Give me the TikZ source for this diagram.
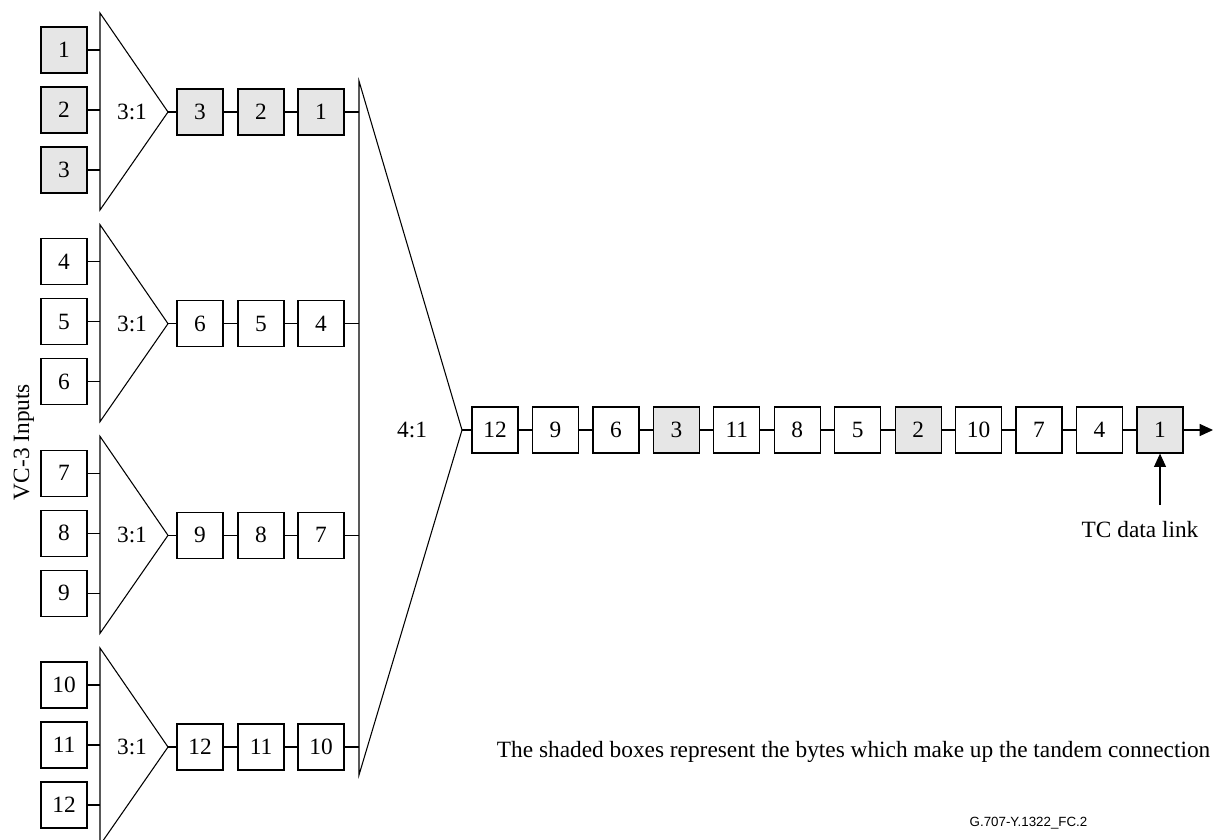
\documentclass[tikz,border=0pt]{standalone}
\usepackage{fontspec}
\setmainfont{Liberation Serif}
\setsansfont{Liberation Sans}
\usetikzlibrary{arrows.meta,positioning,calc}
\definecolor{tcshade}{RGB}{230,230,230}

\begin{document}
\begin{tikzpicture}[x=0.75pt,y=-0.75pt,>={Triangle[length=10pt,width=9pt]},
  byte/.style={draw,line width=0.9pt,minimum size=34.5pt,inner sep=0pt,font=\fontsize{17.5}{19}\selectfont},
  tc/.style={byte,fill=tcshade},
  link/.style={line width=0.8pt},
  lbl/.style={font=\fontsize{17.5}{19}\selectfont}]
  \useasboundingbox (0,0) rectangle (1219,839);

  % the four 3:1 multiplexers
  \foreach \g in {1,...,4}{
    \pgfmathsetmacro{\yc}{112+211.67*(\g-1)}
    \coordinate (top\g) at (100,\yc-99);
    \coordinate (bot\g) at (100,\yc+98);
    \coordinate (apex\g) at (168,\yc);
    \draw[link] (top\g) -- (bot\g) -- (apex\g) -- cycle;
    \node[lbl] (mux\g) at (132,\yc) {3:1};
    \foreach \i in {1,2,3}{
      \pgfmathtruncatemacro{\n}{3*(\g-1)+\i}
      \ifnum\g=1 \def\sty{tc}\else \def\sty{byte}\fi
      \node[\sty] (in\n) at (64,\yc-62+60*\i-60) {\n};
      \draw[link] (in\n.east) -- (in\n.east -| top\g);
    }
    \pgfmathtruncatemacro{\na}{3*\g}
    \pgfmathtruncatemacro{\nb}{3*\g-1}
    \pgfmathtruncatemacro{\nc}{3*\g-2}
    \ifnum\g=1 \def\sty{tc}\else \def\sty{byte}\fi
    \node[\sty] (oa\g) at (200,\yc) {\na};
    \node[\sty] (ob\g) at (261,\yc) {\nb};
    \node[\sty] (oc\g) at (321,\yc) {\nc};
    \coordinate (tap\g) at (359,\yc);
    \draw[link] (apex\g) -- (oa\g) -- (ob\g) -- (oc\g) -- (tap\g);
  }

  % the 4:1 multiplexer
  \coordinate (bigtop) at (359,81);
  \coordinate (bigbot) at (359,775);
  \coordinate (bigapex) at (462,430);
  \draw[link] (bigtop) -- (bigbot) -- (bigapex) -- cycle;
  \node[lbl] (bigmux) at (412,430) {4:1};

  % output byte stream
  \foreach \v [count=\k from 0] in {12,9,6,3,11,8,5,2,10,7,4,1}{
    \ifnum\v<4 \def\sty{tc}\else \def\sty{byte}\fi
    \node[\sty] (s\k) at (495+60.45*\k,430) {\v};
  }
  \draw[link] (bigapex) -- (s0);
  \foreach \k [remember=\k as \p (initially 0)] in {1,...,11}
    \draw[link] (s\p) -- (s\k);
  \coordinate (out) at (1213,430);
  \draw[link,->] (s11) -- (out);

  \node[lbl,anchor=base] (tclink) at (1140,537) {TC data link};
  \coordinate (tcfoot) at (1160,505);
  \draw[link,->] (tcfoot) -- (s11.south -| tcfoot);

  \node[lbl,rotate=90] (inputs) at (24,442) {VC-3 Inputs};
  \node[lbl,anchor=base east] (note) at (1215,757)
    {The shaded boxes represent the bytes which make up the tandem connection};
  \node[font=\sffamily\fontsize{10}{12}\selectfont,anchor=base east] (fig) at (1092,826)
    {G.707-Y.1322\_FC.2};
\end{tikzpicture}
\end{document}
